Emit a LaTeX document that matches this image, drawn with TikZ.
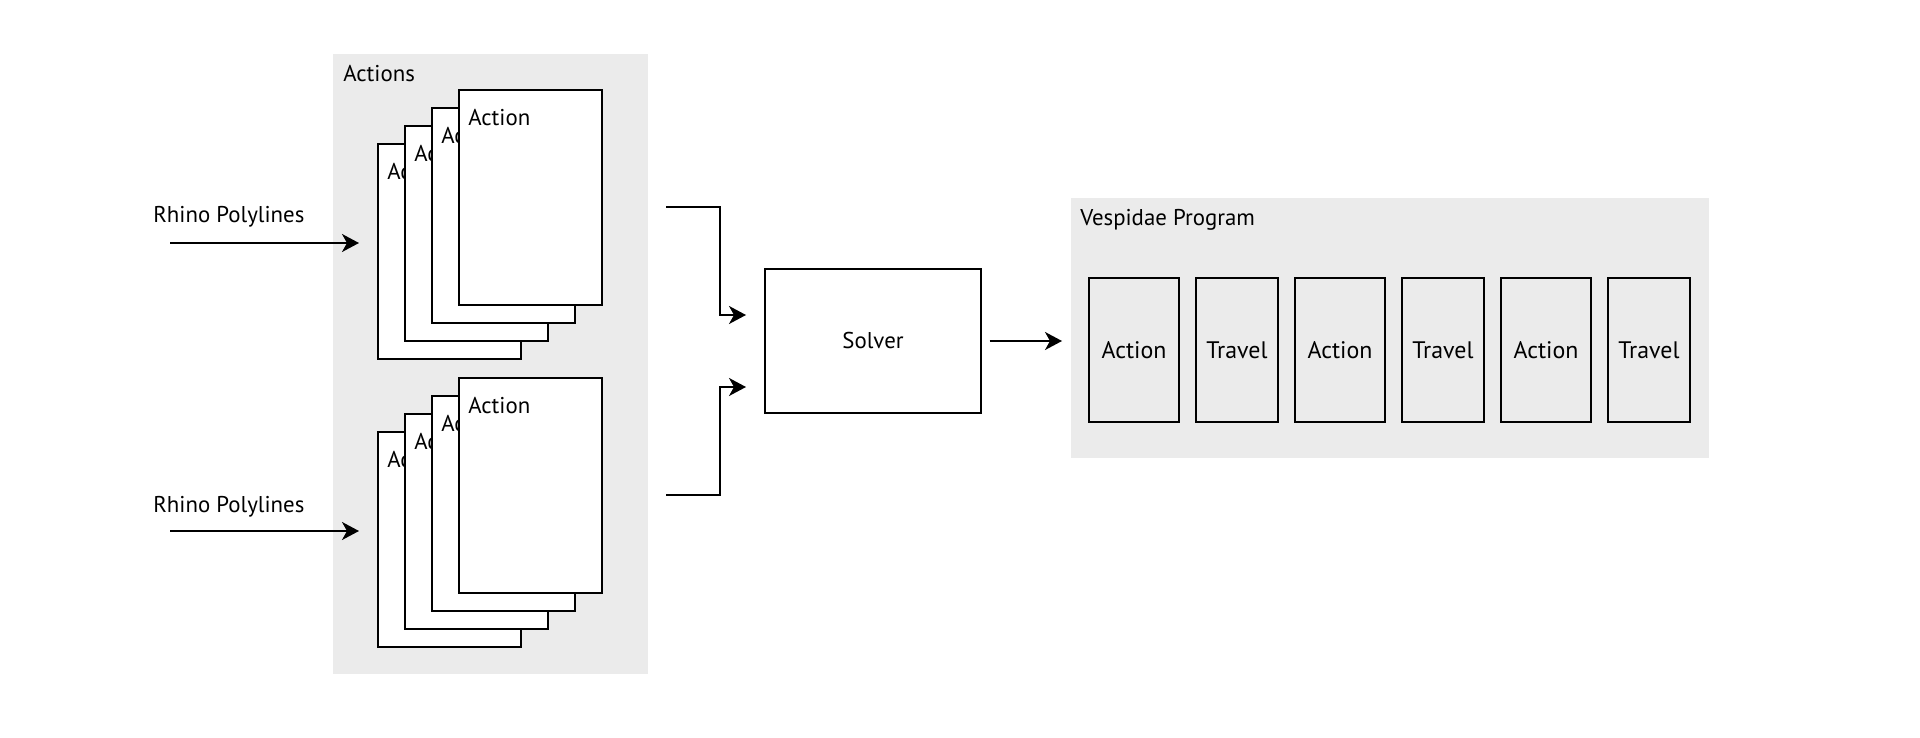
\documentclass[tikz,border=0pt]{standalone}
\usepackage{fontspec}
\setmainfont{PT Sans}
\usetikzlibrary{positioning}
\usetikzlibrary{arrows.meta}
\usetikzlibrary{calc}
\definecolor{panelgray}{RGB}{235,235,235}

\begin{document}
\begin{tikzpicture}[
    every node/.style={font=\fontsize{13}{15}\selectfont},
    panel/.style={fill=panelgray, inner sep=0pt, outer sep=0pt},
    card/.style={draw, fill=white, line width=0.75pt,
        minimum width=2.86cm, minimum height=4.3cm,
        inner sep=0pt, outer sep=0pt,
        label={[anchor=north west, inner sep=0pt, xshift=0.18cm, yshift=-0.38cm]north west:Action}},
    slot/.style={draw, line width=0.75pt, minimum height=2.88cm, inner sep=0pt, outer sep=0pt,
        font=\fontsize{13.6}{15}\selectfont},
    flow/.style={-{Stealth[length=0.34cm, width=0.36cm, inset=0.1cm]}, line width=1.1pt}
]
\useasboundingbox (0,0) rectangle (38.4,-14.76);

% Actions panel
\node[panel, minimum width=6.3cm, minimum height=12.4cm] (actions) at (9.81,-7.28) {};
\node[anchor=north west, inner sep=0pt] (actionsTitle) at ($(actions.north west)+(0.2,-0.22)$) {Actions};

% Upper stack of actions
\node[card] (topA) at (8.99,-5.03) {};
\node[card, xshift=0.54cm, yshift=0.36cm] (topB) at (topA) {};
\node[card, xshift=0.54cm, yshift=0.36cm] (topC) at (topB) {};
\node[card, xshift=0.54cm, yshift=0.36cm] (topD) at (topC) {};

% Lower stack of actions
\node[card] (botA) at (8.99,-10.79) {};
\node[card, xshift=0.54cm, yshift=0.36cm] (botB) at (botA) {};
\node[card, xshift=0.54cm, yshift=0.36cm] (botC) at (botB) {};
\node[card, xshift=0.54cm, yshift=0.36cm] (botD) at (botC) {};

% Inputs
\node[anchor=base west, inner sep=0pt] (rhinoTop) at (3.06,-4.46) {Rhino Polylines};
\coordinate (feedTop) at (3.4,-4.86);
\draw[flow, shorten >=0.38cm] (feedTop) -- (feedTop -| topA.west);

\node[anchor=base west, inner sep=0pt] (rhinoBot) at (3.06,-10.24) {Rhino Polylines};
\coordinate (feedBot) at (3.4,-10.62);
\draw[flow, shorten >=0.38cm] (feedBot) -- (feedBot -| botA.west);

% Solver
\node[draw, line width=0.75pt,
    minimum width=4.32cm,
    minimum height=2.88cm
] (solver) at (17.46,-6.82) {Solver};

\coordinate (outTop) at (13.32,-4.14);
\coordinate (inTop) at (14.92,-6.3);
\draw[flow] (outTop) -- ++(1.08,0) |- (inTop);

\coordinate (outBot) at (13.32,-9.9);
\coordinate (inBot) at (14.92,-7.74);
\draw[flow] (outBot) -- ++(1.08,0) |- (inBot);

% Vespidae program
\node[panel, minimum width=12.76cm, minimum height=5.2cm] (program) at (27.8,-6.56) {};
\node[anchor=north west, inner sep=0pt] (programTitle) at ($(program.north west)+(0.18,-0.22)$) {Vespidae Program};

\node[slot, minimum width=1.8cm] (slotA) at (22.68,-7.0) {Action};
\node[slot, minimum width=1.64cm, right=0.34cm of slotA] (slotB) {Travel};
\node[slot, minimum width=1.8cm, right=0.34cm of slotB] (slotC) {Action};
\node[slot, minimum width=1.64cm, right=0.34cm of slotC] (slotD) {Travel};
\node[slot, minimum width=1.8cm, right=0.34cm of slotD] (slotE) {Action};
\node[slot, minimum width=1.64cm, right=0.34cm of slotE] (slotF) {Travel};

\draw[flow, shorten <=0.16cm, shorten >=0.18cm] (solver.east) -- (solver.east -| program.west);

\end{tikzpicture}
\end{document}
